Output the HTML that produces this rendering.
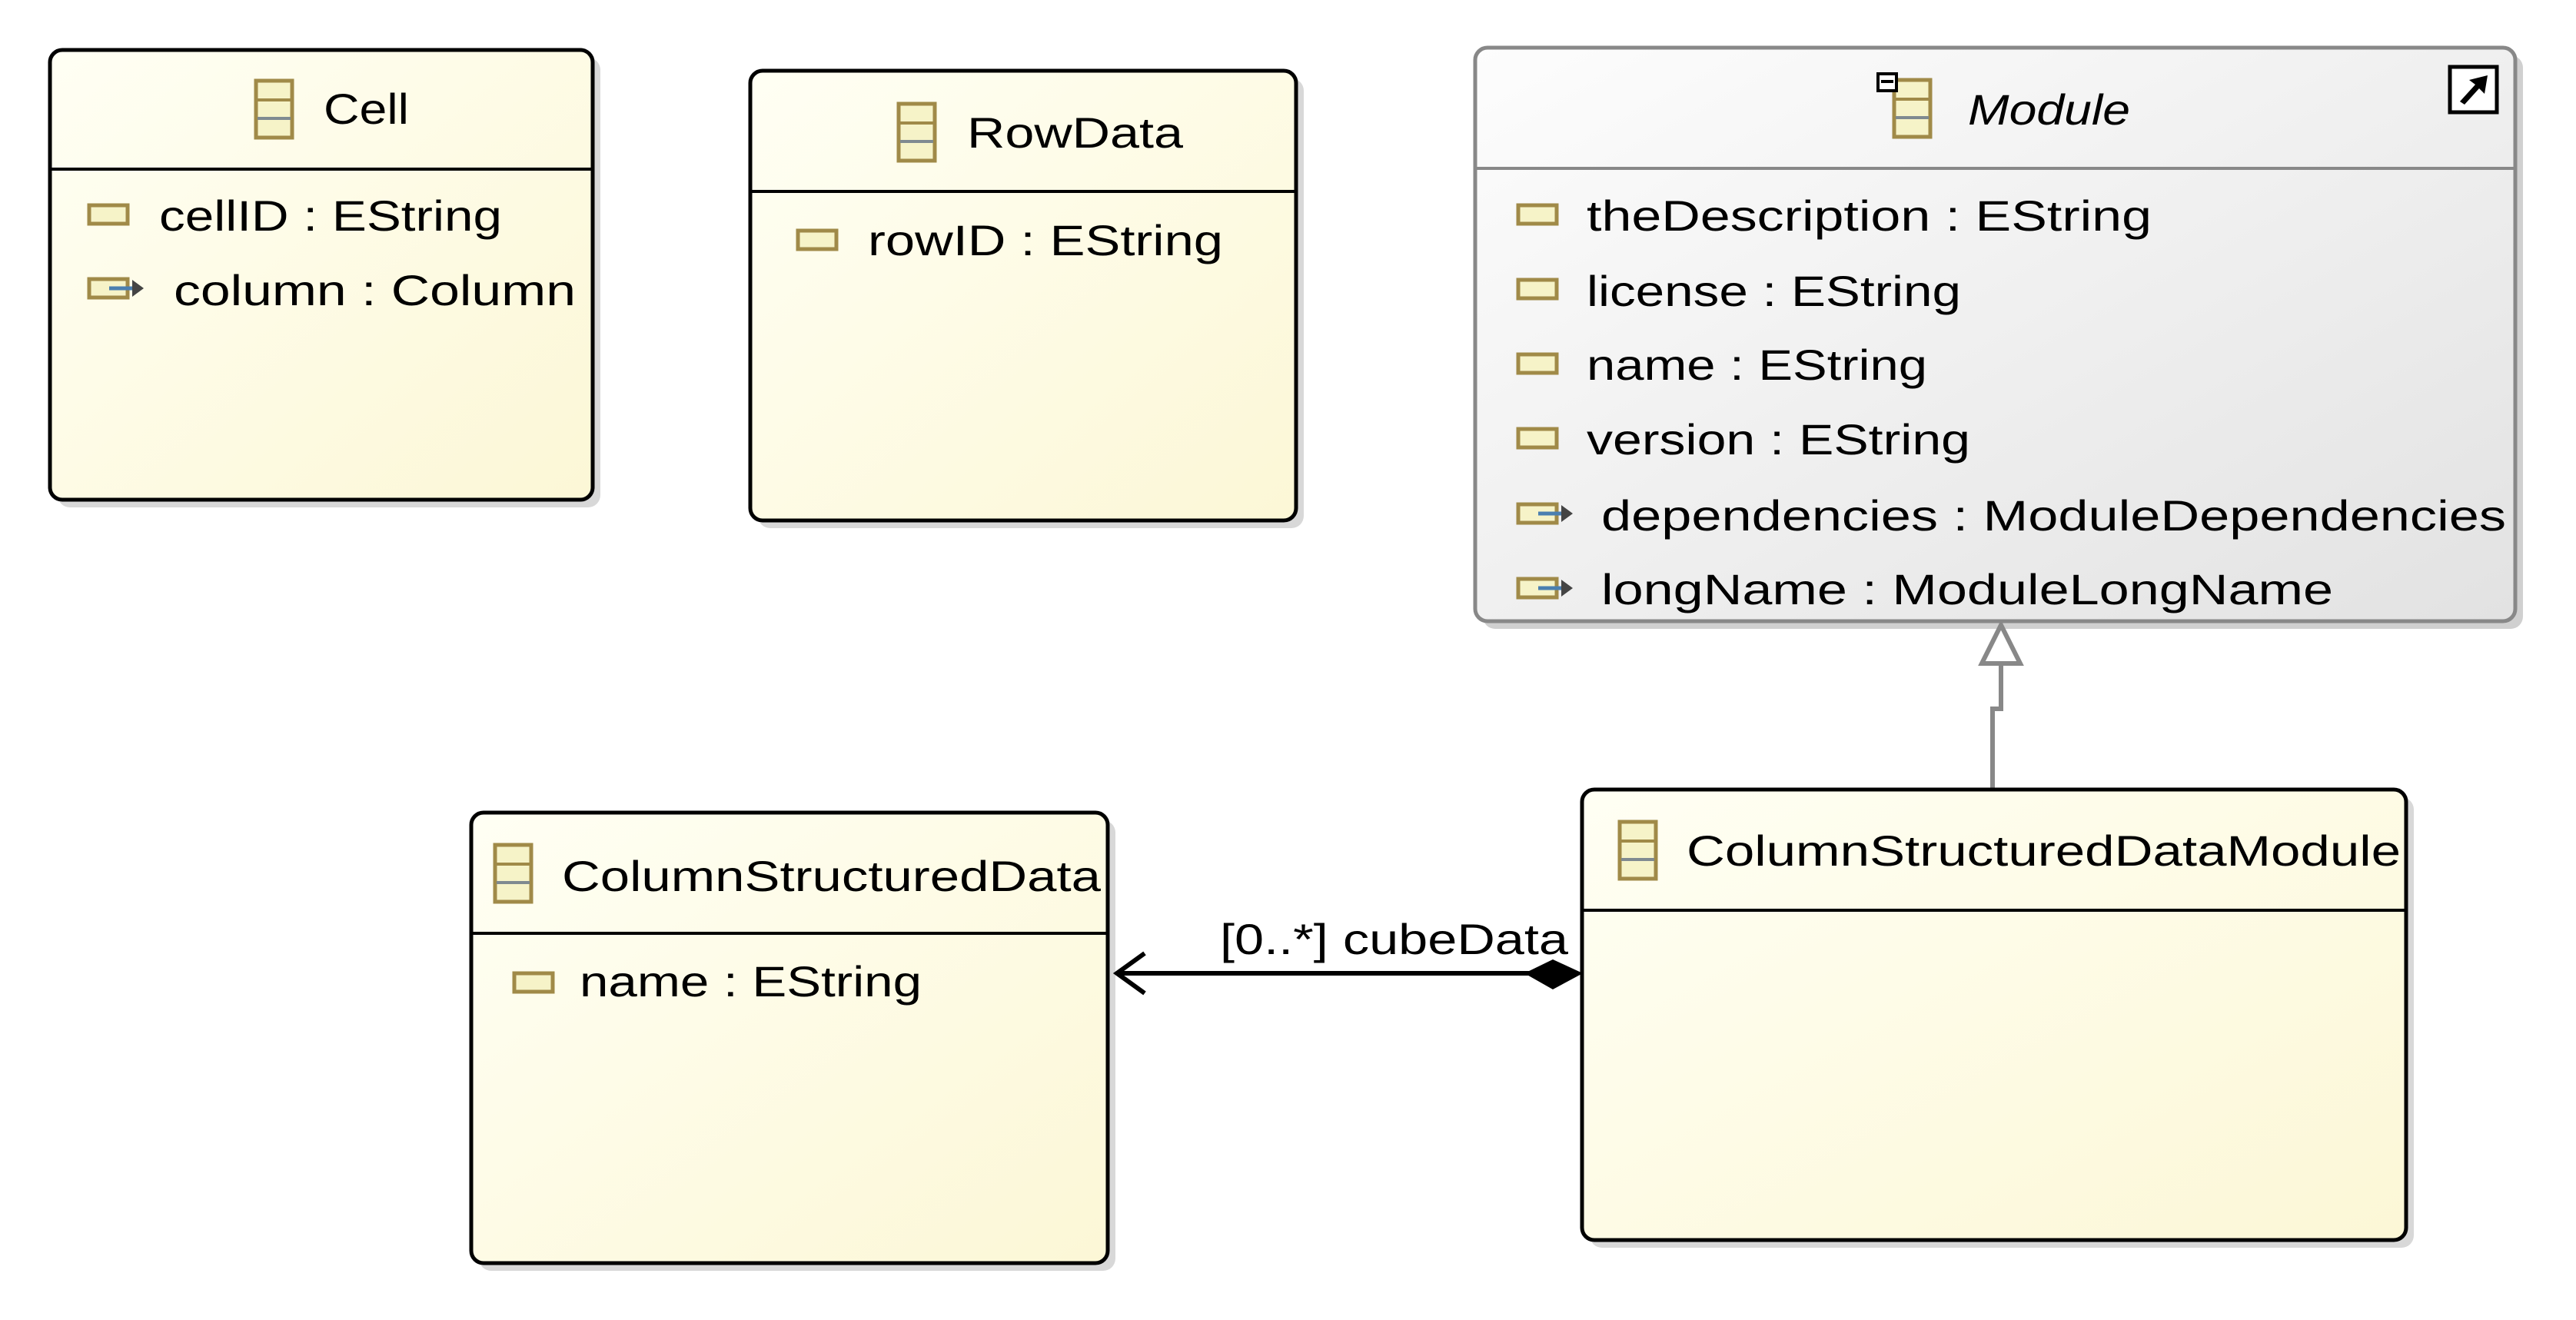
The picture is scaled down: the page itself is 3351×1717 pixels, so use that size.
<!DOCTYPE html>
<html><head><meta charset="utf-8"><style>html,body{margin:0;padding:0;background:#fff;}svg{display:block}</style></head>
<body>
<svg width="3351" height="1717" viewBox="0 0 3351 1717" xmlns="http://www.w3.org/2000/svg" font-family="'Liberation Sans', sans-serif" font-size="56">
<defs>
<linearGradient id="cream" x1="0" y1="0" x2="1" y2="1"><stop offset="0" stop-color="#fffff4"/><stop offset="1" stop-color="#fcf7d6"/></linearGradient>
<linearGradient id="gray" x1="0" y1="0" x2="1" y2="1"><stop offset="0" stop-color="#fdfdfd"/><stop offset="1" stop-color="#e2e2e2"/></linearGradient>
<g id="cicon"><rect x="2" y="2" width="47" height="74" fill="#f6f3c8" stroke="#a08a48" stroke-width="5"/><line x1="4" y1="27" x2="47" y2="27" stroke="#a08a48" stroke-width="4"/><line x1="4" y1="51" x2="47" y2="51" stroke="#7f8a90" stroke-width="4"/></g>
<g id="aicon"><rect x="2" y="2" width="50" height="24" fill="#f6f3c8" stroke="#a08a48" stroke-width="5"/></g>
<g id="ricon"><rect x="2" y="2" width="50" height="24" fill="#f6f3c8" stroke="#a08a48" stroke-width="5"/><line x1="28" y1="14" x2="62" y2="14" stroke="#4a7fb0" stroke-width="5"/><path d="M58 3 L73 14 L58 25 Z" fill="#444"/></g>
</defs>

<!-- Cell -->
<rect x="75" y="75" width="706" height="585" rx="16" fill="#d8d8d8"/>
<rect x="65" y="65" width="706" height="585" rx="16" fill="url(#cream)" stroke="#000" stroke-width="5"/>
<line x1="66" y1="220" x2="770" y2="220" stroke="#000" stroke-width="4"/>
<use href="#cicon" x="331" y="103"/>
<text x="421" y="161" textLength="111" lengthAdjust="spacingAndGlyphs">Cell</text>
<use href="#aicon" x="114" y="265"/>
<text x="207" y="300" textLength="446" lengthAdjust="spacingAndGlyphs">cellID : EString</text>
<use href="#ricon" x="114" y="361"/>
<text x="226" y="397" textLength="523" lengthAdjust="spacingAndGlyphs">column : Column</text>

<!-- RowData -->
<rect x="986" y="102" width="710" height="585" rx="16" fill="#d8d8d8"/>
<rect x="976" y="92" width="710" height="585" rx="16" fill="url(#cream)" stroke="#000" stroke-width="5"/>
<line x1="977" y1="249" x2="1685" y2="249" stroke="#000" stroke-width="4"/>
<use href="#cicon" x="1167" y="133"/>
<text x="1258" y="192" textLength="281" lengthAdjust="spacingAndGlyphs">RowData</text>
<use href="#aicon" x="1036" y="298"/>
<text x="1129" y="332" textLength="462" lengthAdjust="spacingAndGlyphs">rowID : EString</text>

<!-- Module -->
<rect x="1929" y="72" width="1353" height="746" rx="16" fill="#d0d0d0"/>
<rect x="1919" y="62" width="1353" height="746" rx="16" fill="url(#gray)" stroke="#888" stroke-width="5"/>
<line x1="1920" y1="219" x2="3271" y2="219" stroke="#888" stroke-width="4"/>
<use href="#cicon" x="2462" y="102"/>
<g fill="#fff" stroke="#000" stroke-width="4"><rect x="2443" y="96" width="24" height="22"/><line x1="2447" y1="106" x2="2463" y2="106"/></g>
<text x="2560" y="162" font-style="italic" textLength="211" lengthAdjust="spacingAndGlyphs">Module</text>
<rect x="3187" y="87" width="61" height="59" fill="#fff" stroke="#000" stroke-width="5"/>
<path d="M3200 132 L3220 110 L3212 104 L3236 98 L3232 122 L3225 115 L3206 136 Z" fill="#000"/>
<use href="#aicon" x="1973" y="265"/>
<text x="2064" y="300" textLength="735" lengthAdjust="spacingAndGlyphs">theDescription : EString</text>
<use href="#aicon" x="1973" y="362"/>
<text x="2064" y="398" textLength="487" lengthAdjust="spacingAndGlyphs">license : EString</text>
<use href="#aicon" x="1973" y="459"/>
<text x="2064" y="494" textLength="443" lengthAdjust="spacingAndGlyphs">name : EString</text>
<use href="#aicon" x="1973" y="556"/>
<text x="2064" y="591" textLength="499" lengthAdjust="spacingAndGlyphs">version : EString</text>
<use href="#ricon" x="1973" y="654"/>
<text x="2083" y="690" textLength="1177" lengthAdjust="spacingAndGlyphs">dependencies : ModuleDependencies</text>
<use href="#ricon" x="1973" y="751"/>
<text x="2083" y="786" textLength="952" lengthAdjust="spacingAndGlyphs">longName : ModuleLongName</text>

<!-- Generalization -->
<path d="M2592 1027 L2592 922 L2603 922 L2603 863" fill="none" stroke="#888" stroke-width="6"/>
<path d="M2603 813 L2628 863 L2578 863 Z" fill="#fff" stroke="#888" stroke-width="6" stroke-linejoin="miter"/>

<!-- ColumnStructuredData -->
<rect x="623" y="1067" width="828" height="586" rx="16" fill="#d8d8d8"/>
<rect x="613" y="1057" width="828" height="586" rx="16" fill="url(#cream)" stroke="#000" stroke-width="5"/>
<line x1="614" y1="1214" x2="1440" y2="1214" stroke="#000" stroke-width="4"/>
<use href="#cicon" x="642" y="1097"/>
<text x="731" y="1159" textLength="701" lengthAdjust="spacingAndGlyphs">ColumnStructuredData</text>
<use href="#aicon" x="667" y="1264"/>
<text x="754" y="1296" textLength="445" lengthAdjust="spacingAndGlyphs">name : EString</text>

<!-- ColumnStructuredDataModule -->
<rect x="2068" y="1037" width="1072" height="586" rx="16" fill="#d8d8d8"/>
<rect x="2058" y="1027" width="1072" height="586" rx="16" fill="url(#cream)" stroke="#000" stroke-width="5"/>
<line x1="2059" y1="1184" x2="3129" y2="1184" stroke="#000" stroke-width="4"/>
<use href="#cicon" x="2105" y="1067"/>
<text x="2194" y="1126" textLength="929" lengthAdjust="spacingAndGlyphs">ColumnStructuredDataModule</text>

<!-- Composition -->
<line x1="1452" y1="1266" x2="1990" y2="1266" stroke="#000" stroke-width="6"/>
<path d="M1489 1240 L1453 1266 L1489 1292" fill="none" stroke="#000" stroke-width="6"/>
<path d="M1983 1266 L2020 1248 L2059 1266 L2020 1287 Z" fill="#000"/>
<text x="1587" y="1241" textLength="453" lengthAdjust="spacingAndGlyphs">[0..*] cubeData</text>
</svg>
</body></html>
